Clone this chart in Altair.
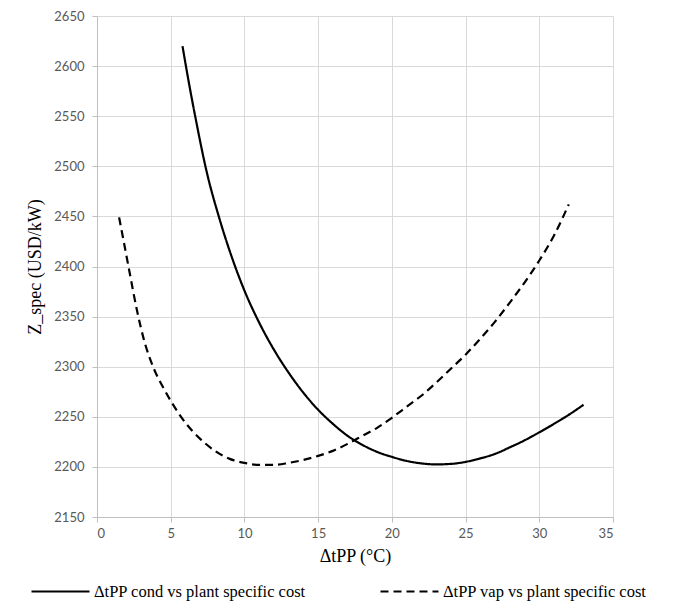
import altair as alt
import pandas as pd

# Series: ΔtPP cond vs plant specific cost (solid)
cond_x = [5.8, 6.2, 6.7, 7.4, 8.3, 9.2, 10.0, 11.0, 12.0, 13.0, 14.0, 15.0, 16.0, 17.0,
          18.0, 19.0, 20.0, 21.0, 22.0, 23.0, 24.0, 25.0, 26.0, 27.0, 28.0, 29.0, 30.0,
          31.0, 32.0, 33.0]
cond_y = [2620, 2586, 2547, 2497, 2448, 2407, 2376, 2344, 2317, 2294, 2274, 2257, 2243, 2231,
          2222, 2215, 2210, 2206, 2203.5, 2202.5, 2203, 2205, 2208.5, 2213, 2219.5, 2226.5, 2234.5,
          2243, 2252, 2262]

# Series: ΔtPP vap vs plant specific cost (dashed)
vap_x = [1.5, 1.8, 2.2, 2.7, 3.2, 3.8, 4.5, 5.0, 6.0, 7.0, 8.0, 9.0, 10.0, 11.0, 12.0, 13.0,
         14.0, 15.0, 16.0, 17.0, 18.0, 19.0, 20.0, 21.0, 22.0, 23.0, 24.0, 25.0, 26.0, 27.0,
         28.0, 29.0, 30.0, 31.0, 32.0]
vap_y = [2449, 2426, 2395, 2357, 2326, 2300, 2279, 2266, 2244, 2228, 2216, 2208, 2204, 2202,
         2202, 2204, 2207, 2211, 2216, 2223, 2231, 2239, 2249, 2260, 2271, 2284, 2298, 2312,
         2328, 2345, 2364, 2384, 2406, 2431, 2462]

series_names = ["ΔtPP cond vs plant specific cost", "ΔtPP vap vs plant specific cost"]
x_ticks = [0, 5, 10, 15, 20, 25, 30, 35]
y_ticks = [2150, 2200, 2250, 2300, 2350, 2400, 2450, 2500, 2550, 2600, 2650]

df = pd.concat([
    pd.DataFrame({"x": cond_x, "y": cond_y, "s": series_names[0], "o": range(len(cond_x))}),
    pd.DataFrame({"x": vap_x, "y": vap_y, "s": series_names[1], "o": range(len(vap_x))}),
])

serif = "Liberation Serif"

chart = alt.Chart(df).mark_line(
    interpolate="monotone", strokeWidth=2.2, color="black"
).encode(
    x=alt.X("x:Q", title="ΔtPP (°C)",
            scale=alt.Scale(domain=[0, 35], nice=False),
            axis=alt.Axis(values=x_ticks, format="d", titlePadding=7,
                          titleFont=serif, titleFontSize=18)),
    y=alt.Y("y:Q", title="Z_spec (USD/kW)",
            scale=alt.Scale(domain=[2150, 2650], nice=False, zero=False),
            axis=alt.Axis(values=y_ticks, format="d", titlePadding=9, labelPadding=8,
                          titleFont=serif, titleFontSize=18)),
    strokeDash=alt.StrokeDash(
        "s:N",
        scale=alt.Scale(domain=series_names, range=[[1, 0], [8, 5]]),
        legend=alt.Legend(
            title=None, orient="none", direction="horizontal", columns=2,
            legendX=-67, legendY=545,
            symbolType="stroke", symbolSize=3364, symbolStrokeWidth=2.2,
            symbolStrokeColor="black",
            labelFont=serif, labelFontSize=16.5, labelColor="black",
            labelLimit=400, labelOffset=3, columnPadding=70, padding=0,
        ),
    ),
    order="o:Q",
).properties(
    width=516, height=501,
    autosize=alt.AutoSizeParams(type="none"),
    padding={"left": 89, "top": 8, "right": 64, "bottom": 90},
).configure_view(
    stroke=None
).configure_axis(
    labelFont="Lato", labelFontSize=13, labelColor="#595959",
    titleFont=serif, titleFontSize=18, titleColor="black", titleFontWeight="normal",
    gridColor="#d9d9d9", gridWidth=1,
    domainColor="#bfbfbf", tickColor="#bfbfbf", tickSize=5, labelPadding=5,
)

chart.save("out.html", embed_options={"renderer": "svg", "actions": False})
